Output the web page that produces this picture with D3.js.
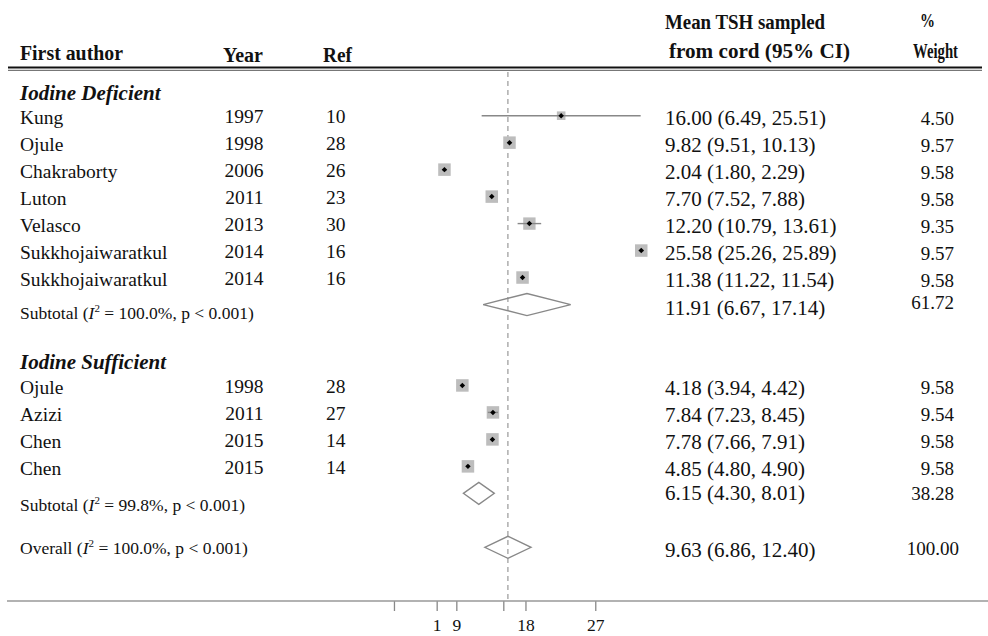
<!DOCTYPE html>
<html>
<head>
<meta charset="utf-8">
<script src="https://cdn.jsdelivr.net/npm/d3@7"></script>
<style>
  html, body { margin: 0; padding: 0; background: #fff; }
  svg { display: block; font-family: "Liberation Serif", "Times New Roman", serif; }
</style>
</head>
<body>
<svg id="chart" width="988" height="636"></svg>
<script>
// ---------------- DATA ----------------
const groupNames = ["Iodine Deficient", "Iodine Sufficient"];
const studyGroup = [0, 0, 0, 0, 0, 0, 0, 1, 1, 1, 1];
const authors = ["Kung", "Ojule", "Chakraborty", "Luton", "Velasco", "Sukkhojaiwaratkul", "Sukkhojaiwaratkul",
                 "Ojule", "Azizi", "Chen", "Chen"];
const years = [1997, 1998, 2006, 2011, 2013, 2014, 2014, 1998, 2011, 2015, 2015];
const refs = [10, 28, 26, 23, 30, 16, 16, 28, 27, 14, 14];
const estimates = [16.00, 9.82, 2.04, 7.70, 12.20, 25.58, 11.38, 4.18, 7.84, 7.78, 4.85];
const lower = [6.49, 9.51, 1.80, 7.52, 10.79, 25.26, 11.22, 3.94, 7.23, 7.66, 4.80];
const upper = [25.51, 10.13, 2.29, 7.88, 13.61, 25.89, 11.54, 4.42, 8.45, 7.91, 4.90];
const weights = [4.50, 9.57, 9.58, 9.58, 9.35, 9.57, 9.58, 9.58, 9.54, 9.58, 9.58];

const pooledKind = ["Subtotal", "Subtotal", "Overall"];
const pooledI2 = ["100.0%", "99.8%", "100.0%"];
const pooledP = ["p < 0.001", "p < 0.001", "p < 0.001"];
const pooledEst = [11.91, 6.15, 9.63];
const pooledLower = [6.67, 4.30, 6.86];
const pooledUpper = [17.14, 8.01, 12.40];
const pooledWeight = [61.72, 38.28, 100.00];

const overallRef = 9.63;
const axisTicks = [-4.0, 1.11, 3.46, 9.08, 11.73, 20.08];
const axisLabels = ["", "1", "9", "", "18", "27"];

const headerLeft = ["First author", "Year", "Ref"];
const headerEst = ["Mean TSH sampled", "from cord (95% CI)"];
const headerWt = ["%", "Weight"];

// ---------------- LAYOUT ----------------
const svg = d3.select("#chart");
const fmt = d3.format(".2f");
const ink = "#111";

// build row structure
const rows = [];
let r = 0;
groupNames.forEach((g, gi) => {
  rows.push({ type: "header", row: r++, label: g });
  studyGroup.forEach((sg, i) => {
    if (sg === gi) rows.push({ type: "study", row: r++, i });
  });
  rows.push({ type: "pooled", row: r++, i: gi });
  r++; // blank row
});
rows.push({ type: "pooled", row: r, i: 2 });

const maxRow = d3.max(rows, d => d.row);
const y = d3.scaleLinear().domain([0, maxRow]).range([88.7, 547.3]);
const x = d3.scaleLinear().domain([0, 30]).range([427.4, 678.2]);
const boxSize = d3.scaleSqrt().domain([0, 9.58]).range([0, 12.5]);

// ---------------- HEADER ----------------
const hdr = svg.append("g").attr("font-weight", "bold").attr("font-size", 20).attr("fill", ink);
hdr.append("text").attr("x", 20).attr("y", 60).attr("textLength", 103).attr("lengthAdjust", "spacingAndGlyphs").text(headerLeft[0]);
hdr.append("text").attr("x", 223).attr("y", 62).attr("textLength", 40).attr("lengthAdjust", "spacingAndGlyphs").text(headerLeft[1]);
hdr.append("text").attr("x", 323).attr("y", 62).attr("textLength", 29).attr("lengthAdjust", "spacingAndGlyphs").text(headerLeft[2]);
hdr.append("text").attr("x", 665).attr("y", 29).attr("textLength", 160).attr("lengthAdjust", "spacingAndGlyphs").text(headerEst[0]);
hdr.append("text").attr("x", 669).attr("y", 58).attr("textLength", 181).attr("lengthAdjust", "spacingAndGlyphs").text(headerEst[1]);
hdr.append("text").attr("x", 920).attr("y", 27).attr("font-size", 18).attr("textLength", 15).attr("lengthAdjust", "spacingAndGlyphs").text(headerWt[0]);
hdr.append("text").attr("x", 913).attr("y", 58).attr("font-size", 22).attr("textLength", 45).attr("lengthAdjust", "spacingAndGlyphs").text(headerWt[1]);

svg.append("line").attr("x1", 8).attr("x2", 982).attr("y1", 67.5).attr("y2", 67.5)
  .attr("stroke", "#111").attr("stroke-width", 2);
svg.append("line").attr("x1", 8).attr("x2", 982).attr("y1", 70.3).attr("y2", 70.3)
  .attr("stroke", "#777").attr("stroke-width", 1.2);

// ---------------- REFERENCE LINE ----------------
svg.append("line")
  .attr("x1", x(overallRef)).attr("x2", x(overallRef))
  .attr("y1", 72).attr("y2", 601)
  .attr("stroke", "#999").attr("stroke-width", 1.2)
  .attr("stroke-dasharray", "5,4");

// ---------------- AXIS ----------------
const axisG = svg.append("g").attr("transform", "translate(0,601)")
  .call(d3.axisBottom(x).tickValues(axisTicks).tickFormat((d, i) => axisLabels[i]).tickSize(10).tickPadding(8));
axisG.select(".domain").remove();
axisG.selectAll(".tick line").attr("stroke", "#888").attr("stroke-width", 1.3);
axisG.selectAll(".tick text").attr("font-family", "'Liberation Serif', 'Times New Roman', serif")
  .attr("font-size", 17.5).attr("fill", ink);
svg.append("line").attr("x1", 7).attr("x2", 988).attr("y1", 601).attr("y2", 601)
  .attr("stroke", "#999").attr("stroke-width", 1.5);

// ---------------- ROWS ----------------
const body = svg.append("g").attr("fill", ink);

rows.filter(d => d.type === "header").forEach(d => {
  body.append("text").attr("x", 20).attr("y", y(d.row) + 10.8)
    .attr("font-size", 21).attr("font-weight", "bold").attr("font-style", "italic")
    .text(d.label);
});

const studies = rows.filter(d => d.type === "study");

// text columns
studies.forEach(d => {
  const yy = y(d.row);
  body.append("text").attr("x", 20).attr("y", yy + 8.5).attr("font-size", 19.5).text(authors[d.i]);
  body.append("text").attr("x", 263.5).attr("y", yy + 7.8).attr("font-size", 19.5)
    .attr("text-anchor", "end").text(years[d.i]);
  body.append("text").attr("x", 326).attr("y", yy + 7.5).attr("font-size", 19.5).text(refs[d.i]);
  body.append("text").attr("x", 665).attr("y", yy + 9.7).attr("font-size", 21)
    .text(`${fmt(estimates[d.i])} (${fmt(lower[d.i])}, ${fmt(upper[d.i])})`);
  body.append("text").attr("x", 954).attr("y", yy + 9).attr("font-size", 19)
    .attr("text-anchor", "end").text(fmt(weights[d.i]));
});

// boxes
svg.append("g").selectAll("rect").data(studies).join("rect")
  .attr("x", d => x(estimates[d.i]) - boxSize(weights[d.i]) / 2)
  .attr("y", d => y(d.row) - boxSize(weights[d.i]) / 2)
  .attr("width", d => boxSize(weights[d.i]))
  .attr("height", d => boxSize(weights[d.i]))
  .attr("fill", "#bdbdbd");

// CI lines
svg.append("g").selectAll("line").data(studies).join("line")
  .attr("x1", d => x(lower[d.i])).attr("x2", d => x(upper[d.i]))
  .attr("y1", d => y(d.row)).attr("y2", d => y(d.row))
  .attr("stroke", "#888").attr("stroke-width", 1.4);

// point markers (square diamond)
const squareDiamond = {
  draw(ctx, size) {
    const s = Math.sqrt(size / 2);
    ctx.moveTo(0, -s); ctx.lineTo(s, 0); ctx.lineTo(0, s); ctx.lineTo(-s, 0); ctx.closePath();
  }
};
svg.append("g").selectAll("path").data(studies).join("path")
  .attr("transform", d => `translate(${x(estimates[d.i])},${y(d.row)})`)
  .attr("d", d3.symbol(squareDiamond, 15)())
  .attr("fill", "#000");

// pooled rows
const pooled = rows.filter(d => d.type === "pooled");
const labelOffset = [14.7, 17.4, 6.7];
const estOffset = [10.5, 7, 9.4];
const wtOffset = [4.5, 6.7, 8];
const wtX = [954, 954, 959];
pooled.forEach(d => {
  const yy = y(d.row);
  const t = body.append("text").attr("x", 20).attr("y", yy + labelOffset[d.i]).attr("font-size", 17.5);
  t.append("tspan").text(pooledKind[d.i] + " (");
  t.append("tspan").attr("font-style", "italic").text("I");
  t.append("tspan").attr("font-size", 11).attr("dy", -7).text("2");
  t.append("tspan").attr("dy", 7).text(` = ${pooledI2[d.i]}, ${pooledP[d.i]})`);
  body.append("text").attr("x", 665).attr("y", yy + estOffset[d.i]).attr("font-size", 21)
    .text(`${fmt(pooledEst[d.i])} (${fmt(pooledLower[d.i])}, ${fmt(pooledUpper[d.i])})`);
  body.append("text").attr("x", wtX[d.i]).attr("y", yy + wtOffset[d.i]).attr("font-size", 19)
    .attr("text-anchor", "end").text(fmt(pooledWeight[d.i]));
});

svg.append("g").selectAll("path").data(pooled).join("path")
  .attr("d", d => {
    const yy = y(d.row), h = 11;
    return `M${x(pooledLower[d.i])},${yy}L${x(pooledEst[d.i])},${yy - h}L${x(pooledUpper[d.i])},${yy}L${x(pooledEst[d.i])},${yy + h}Z`;
  })
  .attr("fill", "none").attr("stroke", "#888").attr("stroke-width", 1.3);
</script>
</body>
</html>
